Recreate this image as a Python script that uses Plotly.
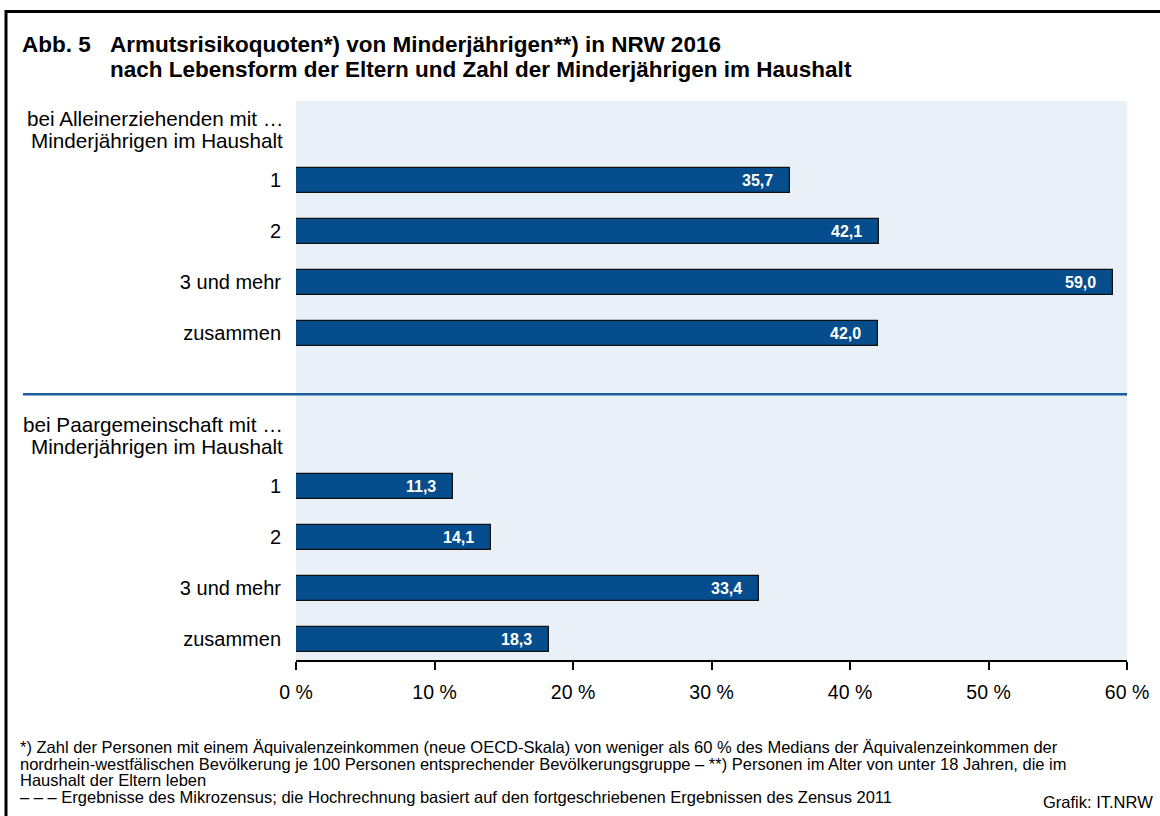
import plotly.graph_objects as go

# ---- data ----
group_labels = [
    ["bei Alleinerziehenden mit …", "Minderjährigen im Haushalt"],
    ["bei Paargemeinschaft mit …", "Minderjährigen im Haushalt"],
]
categories = ["1", "2", "3 und mehr", "zusammen"]
alleinerziehend = [35.7, 42.1, 59.0, 42.0]
paargemeinschaft = [11.3, 14.1, 33.4, 18.3]
x_ticks = [0, 10, 20, 30, 40, 50, 60]
x_ticklabels = [f"{v} %" for v in x_ticks]

title_prefix = "Abb. 5"
title_lines = [
    "Armutsrisikoquoten*) von Minderjährigen**) in NRW 2016",
    "nach Lebensform der Eltern und Zahl der Minderjährigen im Haushalt",
]
footnotes = [
    "*) Zahl der Personen mit einem Äquivalenzeinkommen (neue OECD-Skala) von weniger als 60 % des Medians der Äquivalenzeinkommen der",
    "nordrhein-westfälischen Bevölkerung je 100 Personen entsprechender Bevölkerungsgruppe – **) Personen im Alter von unter 18 Jahren, die im",
    "Haushalt der Eltern leben",
    "– – – Ergebnisse des Mikrozensus; die Hochrechnung basiert auf den fortgeschriebenen Ergebnissen des Zensus 2011",
]
source = "Grafik: IT.NRW"

# ---- layout constants ----
W, H = 1160, 816
ML, MR, MT, MB = 296, 33, 101, 156
FONT = "Liberation Sans, Arial, sans-serif"
BAR = "#054d8c"
BG = "#e9f0f8"

series = [alleinerziehend, paargemeinschaft]
group_step = len(categories) + 2

plot_w = W - ML - MR
plot_h = H - MT - MB


def px_x(px):
    return (px - ML) / plot_w


def px_y(py):
    return (H - MB - py) / plot_h


ys, xs, tickvals, ticktext = [], [], [], []
annotations = []
for g, (glabel, vals) in enumerate(zip(group_labels, series)):
    base = g * group_step
    # two-line group header, right aligned like the tick labels
    for k, line in enumerate(glabel):
        annotations.append(dict(
            x=px_x(285), y=base - 1, xref="paper", yref="y", yshift=11 - 22 * k,
            text=line, showarrow=False, xanchor="right", yanchor="middle",
            font=dict(family=FONT, size=20.7, color="black"),
        ))
    for i, (c, v) in enumerate(zip(categories, vals)):
        ys.append(base + i)
        xs.append(v)
        tickvals.append(base + i)
        ticktext.append(c)

fig = go.Figure()
fig.add_trace(go.Bar(
    x=xs, y=ys, orientation="h", width=0.49,
    marker=dict(color=BAR, line=dict(color="#111111", width=1.2)),
    hoverinfo="skip",
))

for x, y in zip(xs, ys):
    annotations.append(dict(
        x=x, y=y, xref="x", yref="y", text=f"<b>{x:.1f}</b>".replace(".", ","),
        showarrow=False, xanchor="right", xshift=-15,
        font=dict(family=FONT, size=16, color="white"),
    ))

# title
annotations.append(dict(x=px_x(20), y=px_y(44), xref="paper", yref="paper",
                        text=f"<b>{title_prefix}</b>", showarrow=False,
                        xanchor="left", yanchor="middle",
                        font=dict(family=FONT, size=22.5, color="black")))
for k, line in enumerate(title_lines):
    annotations.append(dict(x=px_x(108), y=px_y(44 + 25 * k), xref="paper", yref="paper",
                            text=f"<b>{line}</b>", showarrow=False,
                            xanchor="left", yanchor="middle",
                            font=dict(family=FONT, size=22.5, color="black")))
# footnotes
foot_y = [747, 763.5, 780, 797]
for line, yy in zip(footnotes, foot_y):
    annotations.append(dict(x=px_x(18), y=px_y(yy), xref="paper", yref="paper",
                            text=line, showarrow=False,
                            xanchor="left", yanchor="middle",
                            font=dict(family=FONT, size=16.5, color="black")))
annotations.append(dict(x=px_x(1155), y=px_y(802), xref="paper", yref="paper",
                        text=source, showarrow=False,
                        xanchor="right", yanchor="middle",
                        font=dict(family=FONT, size=16.5, color="black")))

shapes = [
    # frame
    dict(type="rect", xref="paper", yref="paper",
         x0=px_x(6), x1=px_x(1175), y0=px_y(830), y1=px_y(11.5),
         line=dict(color="black", width=3), fillcolor="rgba(0,0,0,0)", layer="above"),
    # divider between groups
    dict(type="line", xref="paper", yref="y",
         x0=px_x(23), x1=1, y0=group_step - 1.8, y1=group_step - 1.8,
         line=dict(color="#1a5c9a", width=2.5)),
]

fig.update_layout(
    width=W, height=H,
    margin=dict(l=ML, r=MR, t=MT, b=MB),
    paper_bgcolor="white", plot_bgcolor=BG,
    showlegend=False, bargap=0,
    font=dict(family=FONT, size=20, color="black"),
    annotations=annotations, shapes=shapes,
    xaxis=dict(range=[0, 60], tickvals=x_ticks, ticktext=x_ticklabels,
               showgrid=False, zeroline=False, showline=True, linecolor="black",
               linewidth=2, ticks="outside", ticklen=8, tickcolor="black", tickwidth=1.5,
               ticklabelstandoff=6, tickfont=dict(size=19.5), fixedrange=True),
    yaxis=dict(range=[9.41, -1.55], tickvals=tickvals, ticktext=ticktext,
               showgrid=False, zeroline=False, showline=False, ticks="",
               ticklabelstandoff=14, tickfont=dict(size=20), fixedrange=True),
)

fig.write_html("out.html", config={"displayModeBar": False},
               post_script="document.body.style.margin='0px';")
